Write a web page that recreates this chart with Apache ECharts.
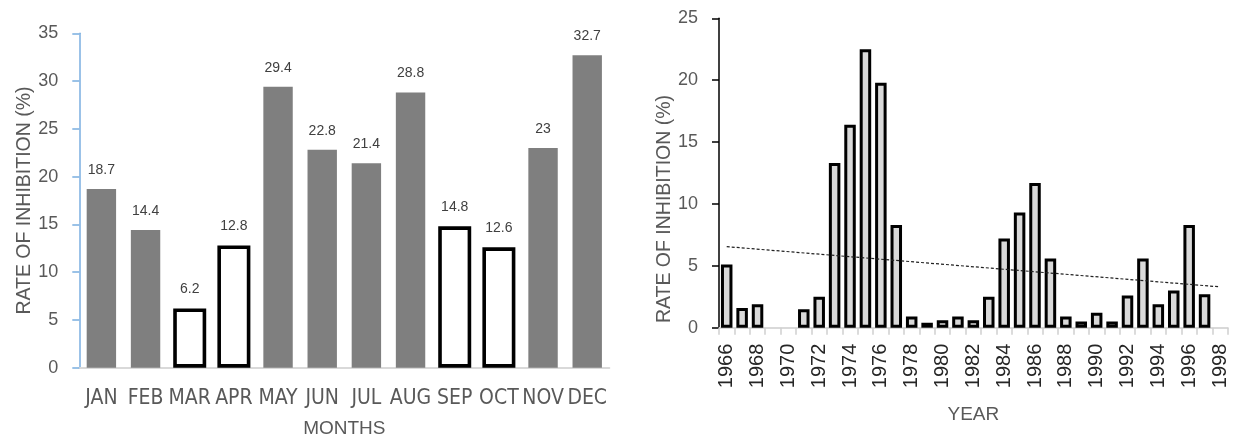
<!DOCTYPE html>
<html>
<head>
<meta charset="utf-8">
<script src="https://cdn.jsdelivr.net/npm/echarts@6/dist/echarts.min.js"></script>
<style>
html,body{margin:0;padding:0;background:#fff;}
#chart{width:1237px;height:437px;}
</style>
</head>
<body>
<div id="chart"></div>
<script>
// ---- data ----
const months = ['JAN','FEB','MAR','APR','MAY','JUN','JUL','AUG','SEP','OCT','NOV','DEC'];
const monthRates = [18.7, 14.4, 6.2, 12.8, 29.4, 22.8, 21.4, 28.8, 14.8, 12.6, 23, 32.7];
const outlinedMonths = ['MAR','APR','SEP','OCT'];
const monthTicks = [0, 5, 10, 15, 20, 25, 30, 35];

const years = ['1966','1967','1968','1969','1970','1971','1972','1973','1974','1975','1976',
  '1977','1978','1979','1980','1981','1982','1983','1984','1985','1986','1987','1988',
  '1989','1990','1991','1992','1993','1994','1995','1996','1997','1998'];
const yearRates = [5.1, 1.6, 1.9, null, null, 1.5, 2.5, 13.3, 16.4, 22.5, 19.8, 8.3, 0.9, 0.4,
  0.6, 0.9, 0.6, 2.5, 7.2, 9.3, 11.7, 5.6, 0.9, 0.5, 1.2, 0.5, 2.6, 5.6, 1.9, 3.0, 8.3, 2.7, null];
const yearTicks = [0, 5, 10, 15, 20, 25];
const trendYears = ['1966', '1998'];
const trendValues = [6.55, 3.3];

const yName = 'RATE OF INHIBITION (%)';
const xNameLeft = 'MONTHS';
const xNameRight = 'YEAR';

// ---- chart ----
const FONT = "'Liberation Sans', Arial, sans-serif";
const NARROW = "'Liberation Sans Narrow', 'DejaVu Sans Condensed', sans-serif";
const GREY = '#595959';

const chart = echarts.init(document.getElementById('chart'), null, {renderer: 'canvas'});

const filledData = months.map((m, i) => outlinedMonths.includes(m) ? null : monthRates[i]);
const outlinedData = months.map((m, i) => outlinedMonths.includes(m) ? monthRates[i] : null);

const labelStyle = {show: true, position: 'top', distance: 12, fontFamily: FONT, fontSize: 14, color: '#404040'};

const option = {
  animation: false,
  backgroundColor: '#ffffff',
  grid: [
    {left: 79.3, top: 33.3, width: 530, height: 334.4, containLabel: false, outerBoundsMode: 'none'},
    {left: 719, top: 18.3, width: 508.7, height: 309.4, containLabel: false, outerBoundsMode: 'none'}
  ],
  xAxis: [
    {
      type: 'category', gridIndex: 0, data: months,
      name: xNameLeft, nameLocation: 'middle', nameGap: 52,
      nameTextStyle: {fontFamily: FONT, fontSize: 19, color: GREY},
      axisLine: {lineStyle: {color: '#d9d9d9', width: 2}},
      axisTick: {show: false},
      axisLabel: {fontFamily: NARROW, fontSize: 21, color: GREY, margin: 20, interval: 0}
    },
    {
      type: 'category', gridIndex: 1, data: years,
      name: xNameRight, nameLocation: 'middle', nameGap: 78,
      nameTextStyle: {fontFamily: FONT, fontSize: 19, color: GREY},
      axisLine: {lineStyle: {color: '#d9d9d9', width: 2}},
      axisTick: {show: true, interval: 0, length: 7, lineStyle: {color: '#d0d0d0', width: 1.5}},
      axisLabel: {fontFamily: FONT, fontSize: 20, color: '#262626', rotate: 90, margin: 16, interval: 1}
    },
    {
      type: 'category', gridIndex: 0, data: months, show: false
    }
  ],
  yAxis: [
    {
      type: 'value', gridIndex: 0, min: monthTicks[0], max: monthTicks[monthTicks.length - 1], interval: 5,
      name: yName, nameLocation: 'middle', nameGap: 45, nameRotate: 90,
      nameTextStyle: {fontFamily: FONT, fontSize: 19.5, color: GREY},
      axisLine: {show: true, lineStyle: {color: '#7aaee0', width: 1.5}},
      axisTick: {show: true, length: 7, lineStyle: {color: '#7aaee0', width: 1.5}},
      splitLine: {show: false},
      axisLabel: {fontFamily: FONT, fontSize: 18, color: GREY, margin: 21}
    },
    {
      type: 'value', gridIndex: 1, min: yearTicks[0], max: yearTicks[yearTicks.length - 1], interval: 5,
      axisLine: {show: true, lineStyle: {color: '#000000', width: 1.5}},
      axisTick: {show: true, length: 7, lineStyle: {color: '#000000', width: 1.5}},
      splitLine: {show: false},
      axisLabel: {fontFamily: FONT, fontSize: 18, color: GREY, margin: 21}
    }
  ],
  graphic: [
    {
      type: 'text', x: 665, y: 209, rotation: Math.PI / 2,
      style: {text: yName, font: "19.5px 'Liberation Sans', Arial, sans-serif", fill: GREY, align: 'center', verticalAlign: 'middle'}
    }
  ],
  series: [
    {
      type: 'bar', xAxisIndex: 0, yAxisIndex: 0, data: filledData,
      barWidth: 29.4,
      itemStyle: {color: '#7f7f7f'},
      label: labelStyle
    },
    {
      type: 'bar', xAxisIndex: 2, yAxisIndex: 0, data: outlinedData,
      barWidth: 33,
      itemStyle: {color: '#ffffff', borderColor: '#000000', borderWidth: 3.6},
      label: labelStyle
    },
    {
      type: 'bar', xAxisIndex: 1, yAxisIndex: 1, data: yearRates,
      barWidth: 11.5,
      itemStyle: {color: '#d9d9d9', borderColor: '#000000', borderWidth: 3}
    },
    {
      type: 'line', xAxisIndex: 1, yAxisIndex: 1,
      data: trendYears.map((y, i) => [y, trendValues[i]]),
      symbol: 'none', silent: true,
      lineStyle: {color: '#222222', width: 1.2, type: [3, 2]}
    }
  ]
};
chart.setOption(option);
</script>
</body>
</html>
